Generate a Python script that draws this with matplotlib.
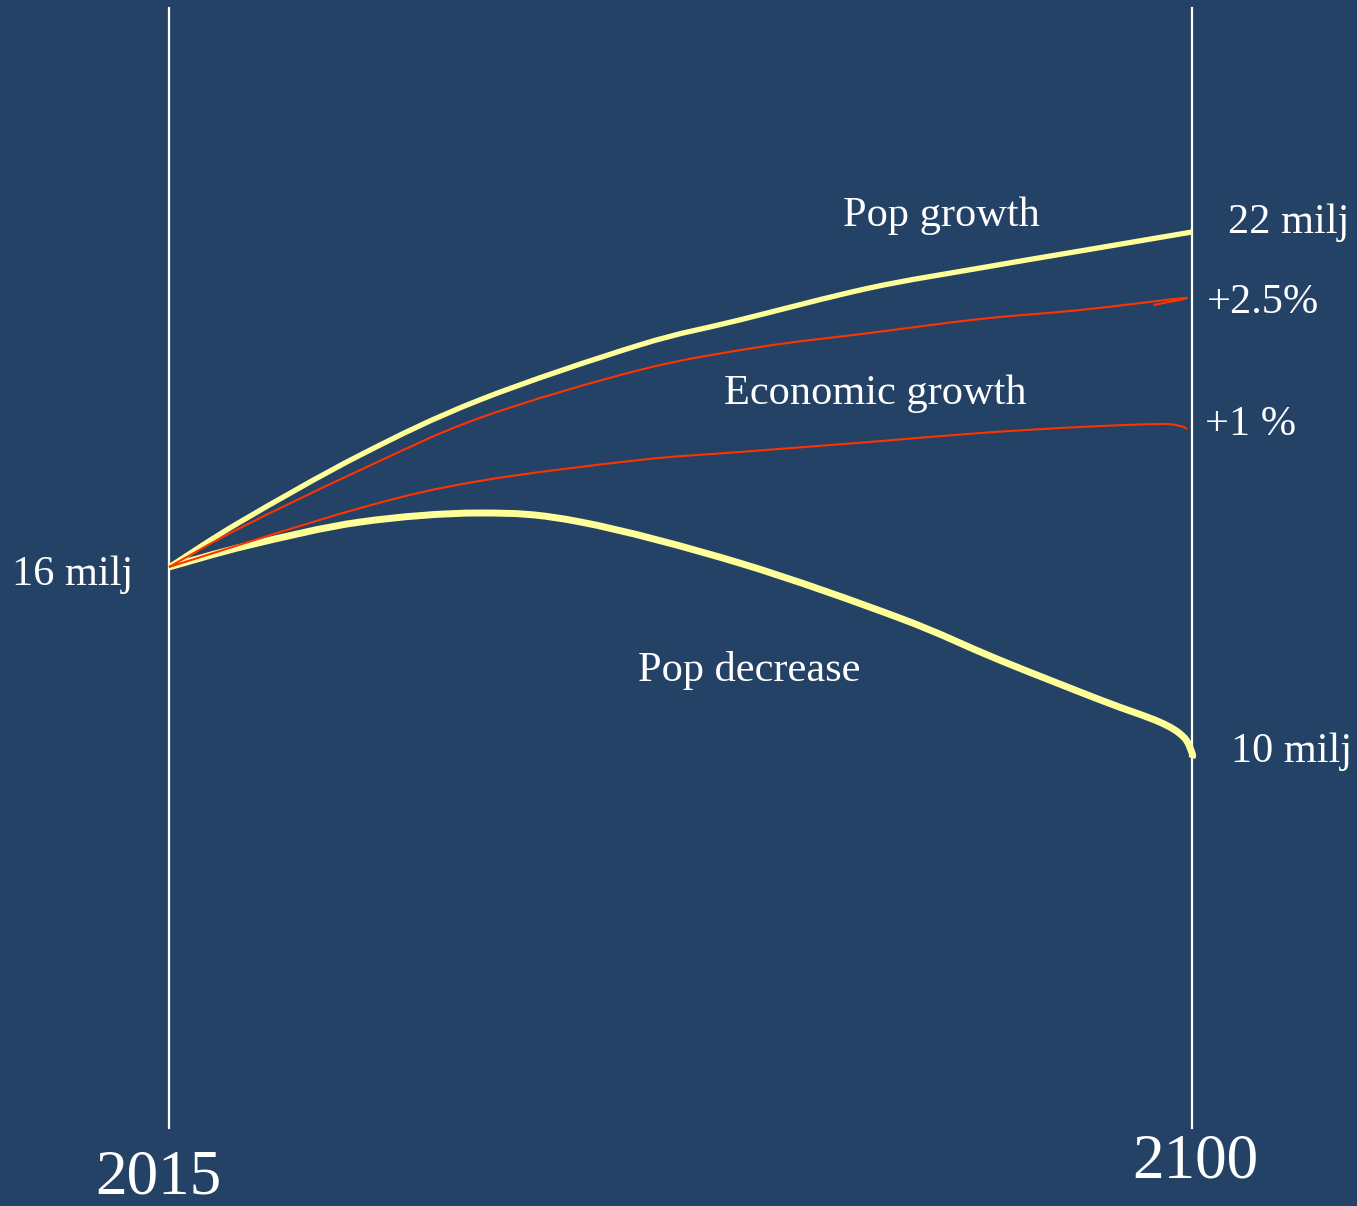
import matplotlib.pyplot as plt
from matplotlib.path import Path
from matplotlib.patches import PathPatch

plt.rcParams['font.family'] = ['Liberation Serif', 'DejaVu Serif']

BG = '#234266'
YELLOW = '#FFFF99'
RED = '#FF3300'

# years on x, a free "level" scale on y (the sketch has no real y scale)
years = [2015, 2100]

pop_growth_x = [2015, 2020.9, 2030.9, 2040.8, 2054.1, 2062.4, 2073.2, 2082.4, 2090.7, 2100]
pop_growth_y = [639, 684, 751, 806, 861, 886, 918, 938, 955, 974]

up25_x = [2015, 2020.9, 2030.9, 2040.8, 2054.1, 2064.1, 2073.2, 2082.4, 2090.7, 2099.4, 2096.8]
up25_y = [639, 678, 736, 788, 836, 859, 873, 887, 896, 908, 901]

up1_x = [2015, 2030.9, 2040.8, 2054.1, 2062.4, 2073.2, 2082.4, 2090.7, 2097.3, 2099.0, 2099.6]
up1_y = [639, 698, 725, 746, 754, 764, 773, 779, 782, 780, 777]

pop_dec_x = [2015, 2021.7, 2030.9, 2040.8, 2049.2, 2062.4, 2075.7, 2084.0, 2092.4, 2097.3, 2099.3, 2100, 2100]
pop_dec_y = [639, 661, 684, 693, 684, 643, 588, 546, 506, 484, 469, 453, 448]


def smooth(xs, ys):
    # Catmull-Rom through the read points, drawn as cubic Bezier segments
    pts = list(zip(xs, ys))
    verts = [pts[0]]
    codes = [Path.MOVETO]
    for i in range(len(pts) - 1):
        p0 = pts[i - 1] if i > 0 else pts[i]
        p1, p2 = pts[i], pts[i + 1]
        p3 = pts[i + 2] if i + 2 < len(pts) else p2
        c1 = (p1[0] + (p2[0] - p0[0]) / 6, p1[1] + (p2[1] - p0[1]) / 6)
        c2 = (p2[0] - (p3[0] - p1[0]) / 6, p2[1] - (p3[1] - p1[1]) / 6)
        verts += [c1, c2, p2]
        codes += [Path.CURVE4] * 3
    return Path(verts, codes)


fig = plt.figure(figsize=(13.57, 12.06), dpi=100, facecolor=BG)
ax = fig.add_axes([0, 0, 1, 1])
ax.set_facecolor(BG)
x0 = 2015 - 169 * 85 / 1023
x1 = 2015 + (1357 - 169) * 85 / 1023
ax.set_xlim(x0, x1)
ax.set_ylim(0, 1206)
ax.axis('off')

for yr in years:
    ax.plot([yr, yr], [78, 1198], color='white', lw=1.6, zorder=1)

for xs, ys, col, lw, z in [(pop_growth_x, pop_growth_y, YELLOW, 3.8, 3),
                           (pop_dec_x, pop_dec_y, YELLOW, 5, 3),
                           (up25_x, up25_y, RED, 1.5, 4),
                           (up1_x, up1_y, RED, 1.5, 4)]:
    ax.add_patch(PathPatch(smooth(xs, ys), facecolor='none', edgecolor=col, lw=lw,
                           joinstyle='round', capstyle='butt', zorder=z))

fs = 30.5
ax.text(2012.0, 631, '16 milj', color='white', fontsize=fs, ha='right', va='center')
ax.text(2103.0, 983, '22 milj', color='white', fontsize=fs, ha='left', va='center')
ax.text(2101.25, 903, '+2.5%', color='white', fontsize=fs, ha='left', va='center')
ax.text(2101.1, 781, '+1 %', color='white', fontsize=fs, ha='left', va='center')
ax.text(2103.2, 454, '10 milj', color='white', fontsize=fs, ha='left', va='center')
ax.text(2079.2, 990, 'Pop growth', color='white', fontsize=fs, ha='center', va='center')
ax.text(2073.7, 812, 'Economic growth', color='white', fontsize=fs, ha='center', va='center')
ax.text(2063.2, 535, 'Pop decrease', color='white', fontsize=fs, ha='center', va='center')
ax.text(2014.1, 28, '2015', color='white', fontsize=45.5, ha='center', va='center')
ax.text(2100.3, 43, '2100', color='white', fontsize=45.5, ha='center', va='center')

fig.savefig('out.png', dpi=100, facecolor=BG)
